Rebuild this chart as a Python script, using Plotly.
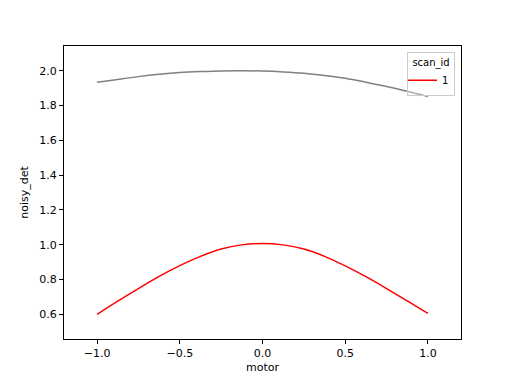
import plotly.graph_objects as go

motor = [-1.0, -0.875, -0.75, -0.625, -0.5, -0.375, -0.25, -0.125, 0.0,
         0.125, 0.25, 0.375, 0.5, 0.625, 0.75, 0.875, 1.0]
noisy_det_scan1 = [0.600, 0.676, 0.748, 0.818, 0.880, 0.933, 0.975, 0.999, 1.007,
                   0.999, 0.975, 0.933, 0.878, 0.816, 0.748, 0.677, 0.605]
fit_curve = [1.933, 1.950, 1.966, 1.979, 1.989, 1.995, 1.999, 2.000, 1.998,
             1.993, 1.985, 1.972, 1.956, 1.934, 1.909, 1.882, 1.852]
legend_title = "scan_id"
series_name = "1"

fig = go.Figure()
fig.add_trace(go.Scatter(x=motor, y=fit_curve, mode="lines", line=dict(color="gray", width=1.5),
                         showlegend=False, line_shape="spline"))
fig.add_trace(go.Scatter(x=motor, y=noisy_det_scan1, mode="lines", line=dict(color="red", width=1.5),
                         name=series_name, line_shape="spline"))

axis_common = dict(showline=True, linecolor="black", linewidth=1, mirror=True, ticks="outside",
                   ticklen=4, tickcolor="black", showgrid=False, zeroline=False,
                   tickfont=dict(family="DejaVu Sans", size=11, color="black"))
fig.update_xaxes(range=[-1.2, 1.2], tickvals=[-1.0, -0.5, 0.0, 0.5, 1.0], tickformat=".1f",
                 title=dict(text="motor", font=dict(family="DejaVu Sans", size=11, color="black"), standoff=4),
                 **axis_common)
fig.update_yaxes(range=[0.458, 2.142], tickvals=[0.6, 0.8, 1.0, 1.2, 1.4, 1.6, 1.8, 2.0], tickformat=".1f",
                 title=dict(text="noisy_det", font=dict(family="DejaVu Sans", size=11, color="black"), standoff=8),
                 **axis_common)
fig.update_layout(
    width=512, height=384,
    margin=dict(l=64, r=51, t=46, b=42),
    plot_bgcolor="white", paper_bgcolor="white",
    font=dict(family="DejaVu Sans", size=11, color="black"),
    legend=dict(title=dict(text=legend_title, side="top center", font=dict(size=10)),
                x=0.985, y=0.98, xanchor="right", yanchor="top",
                bordercolor="#cccccc", borderwidth=1, bgcolor="rgba(255,255,255,0.35)",
                font=dict(size=10), itemwidth=30, tracegroupgap=0, indentation=-6),
)
fig.write_html("out.html")
